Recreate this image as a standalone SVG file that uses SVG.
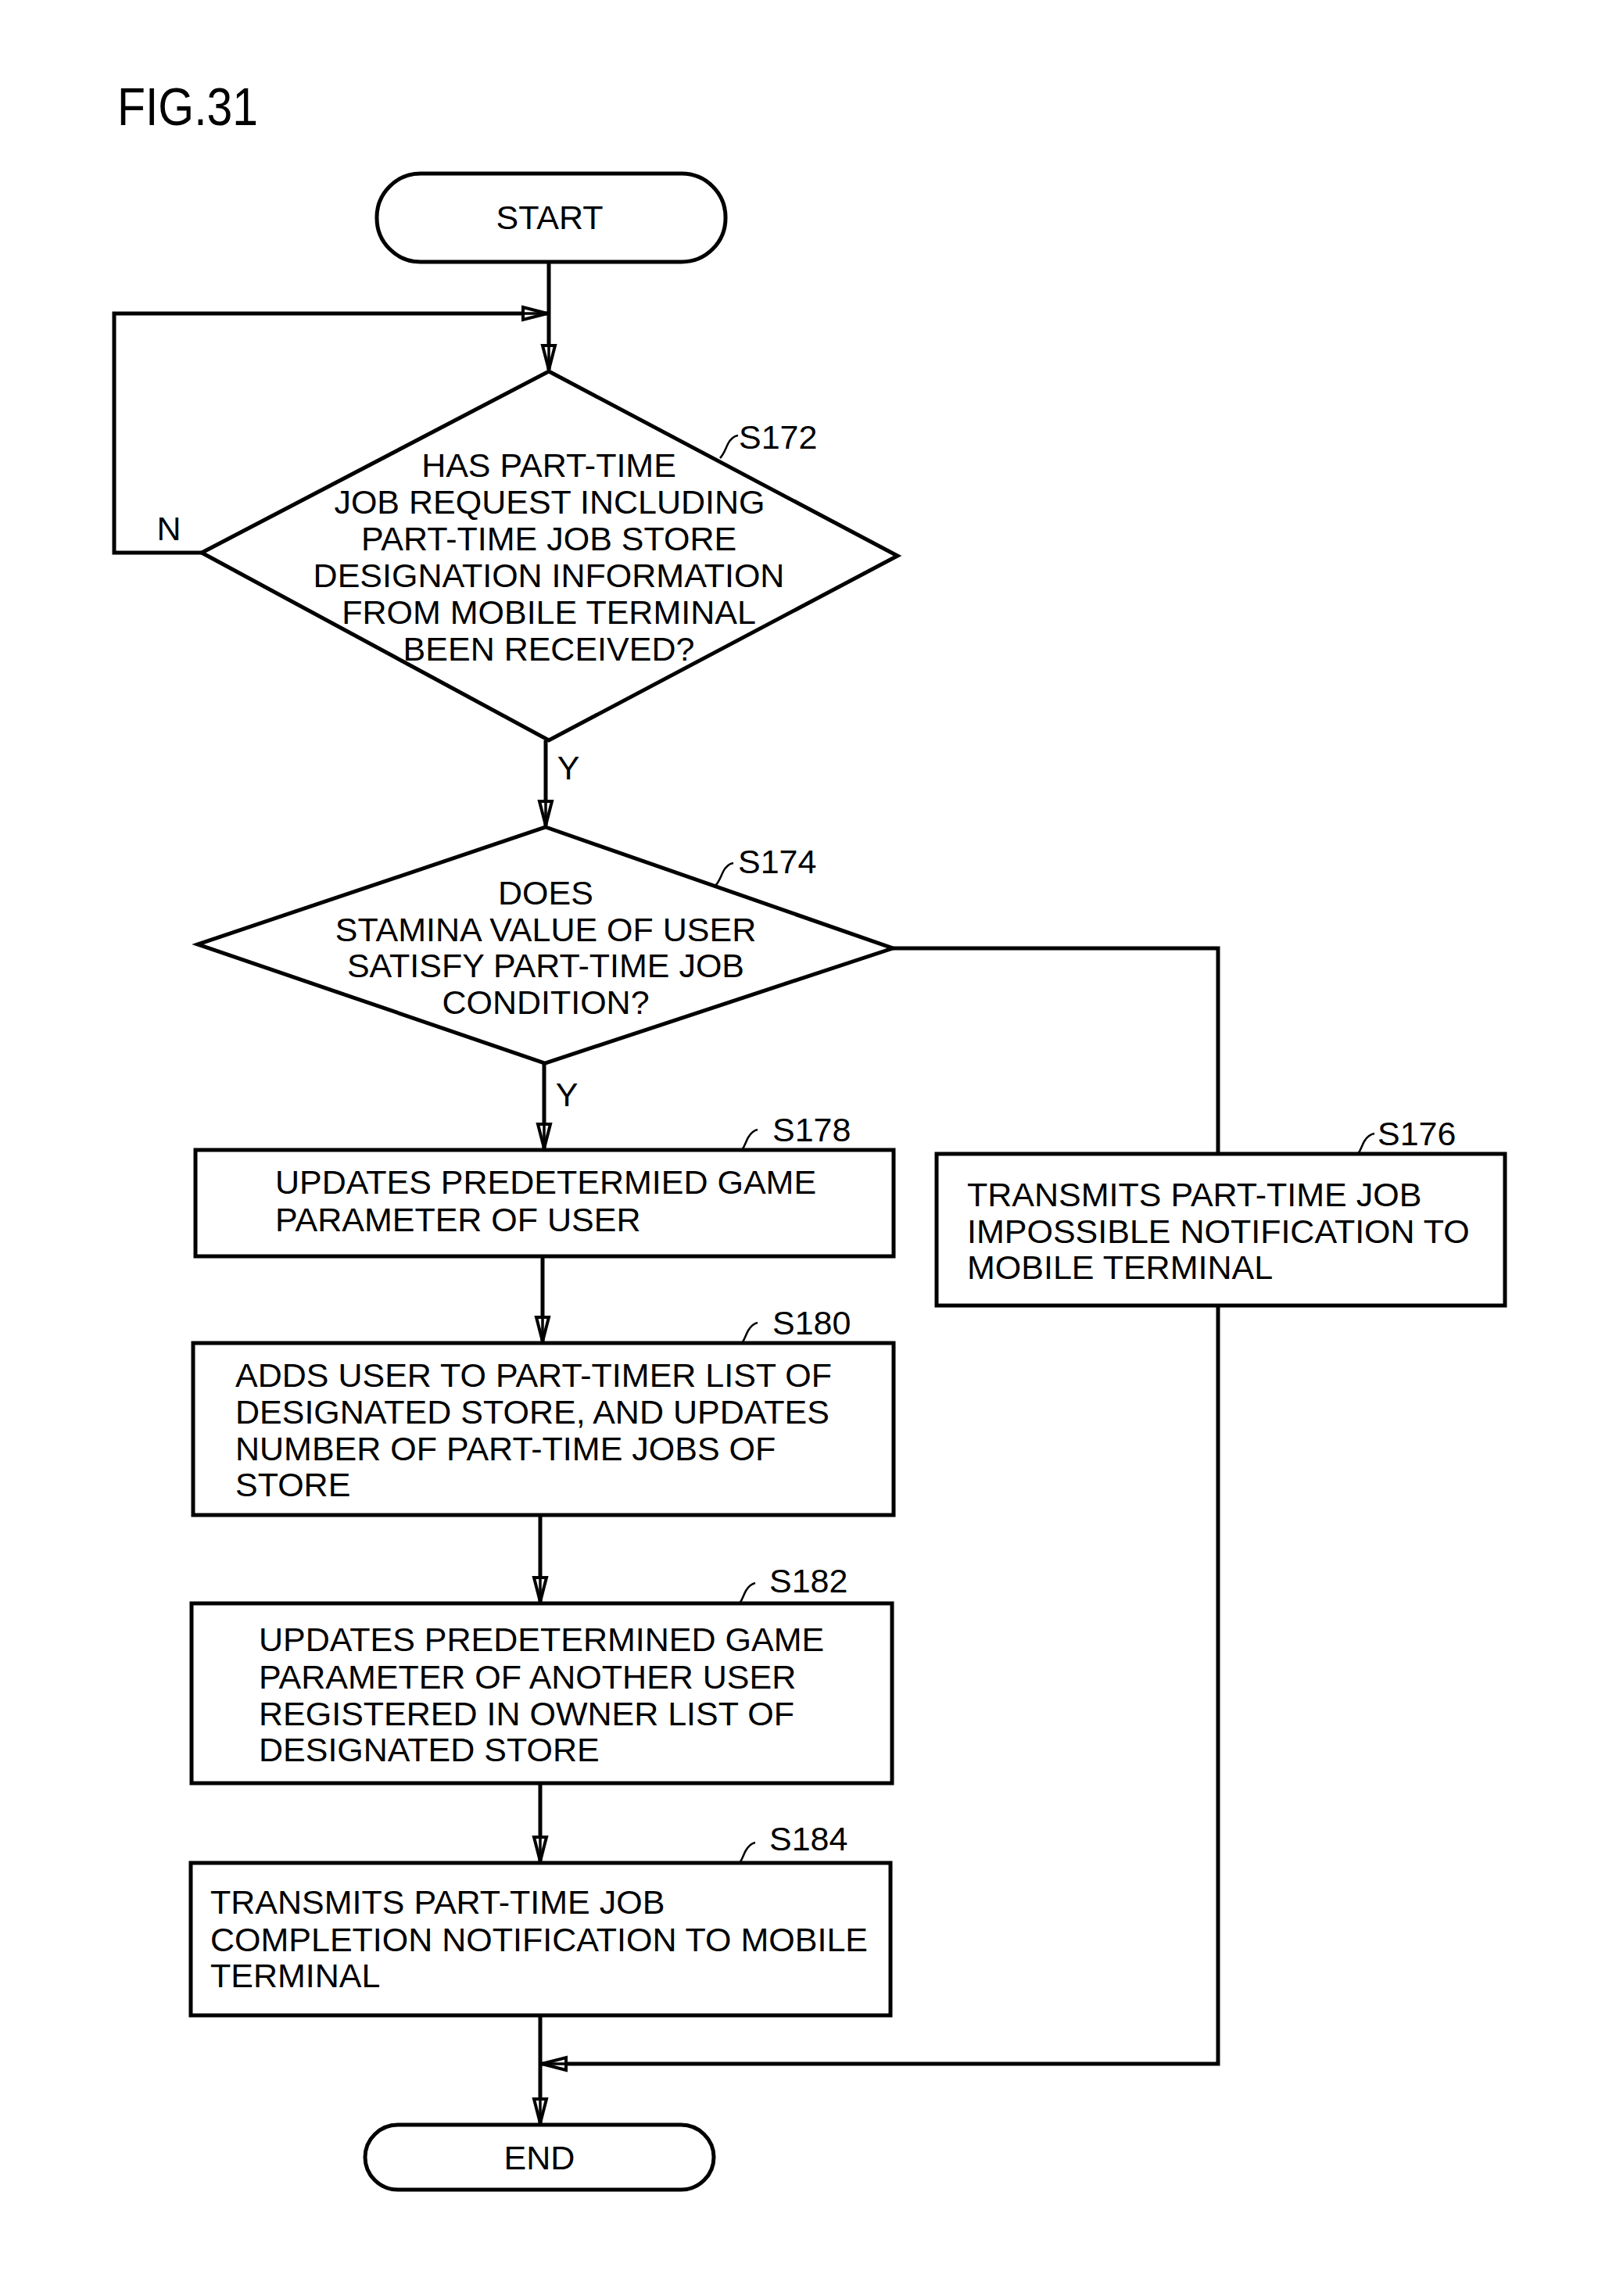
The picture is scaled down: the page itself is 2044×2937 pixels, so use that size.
<svg xmlns="http://www.w3.org/2000/svg" width="2044" height="2937" viewBox="0 0 2044 2937">
<style>
.s{fill:none;stroke:#000;stroke-width:5}
.b{fill:#fff;stroke:#000;stroke-width:5}
.t{font-family:"Liberation Sans",Arial,sans-serif;font-size:43px;fill:#000}
.c{text-anchor:middle}
.ld{fill:none;stroke:#000;stroke-width:2.5}
</style>
<defs>
<marker id="ah" markerUnits="userSpaceOnUse" markerWidth="36" markerHeight="22" viewBox="0 0 36 22" refX="33" refY="11" orient="auto">
<path d="M2,3 L33,11 L2,19 Z" fill="#fff" stroke="#000" stroke-width="4"/>
<path d="M2,11 L33,11" stroke="#000" stroke-width="3.5"/>
</marker>
</defs>
<rect width="2044" height="2937" fill="#fff"/>
<text class="t" x="150" y="160" style="font-size:68px" textLength="180" lengthAdjust="spacingAndGlyphs">FIG.31</text>

<g id="connectors">
<path class="s" d="M702,335 V473" marker-end="url(#ah)"/>
<path class="s" d="M258,707 H146 V401 H700" marker-end="url(#ah)"/>
<path class="s" d="M698,947 V1056" marker-end="url(#ah)"/>
<path class="s" d="M1142,1213 H1558 V1476"/>
<path class="s" d="M696,1360 V1469" marker-end="url(#ah)"/>
<path class="s" d="M694,1607 V1716" marker-end="url(#ah)"/>
<path class="s" d="M691,1938 V2049" marker-end="url(#ah)"/>
<path class="s" d="M691,2281 V2381" marker-end="url(#ah)"/>
<path class="s" d="M691,2578 V2716" marker-end="url(#ah)"/>
<path class="s" d="M1558,1670 V2640 H693" marker-end="url(#ah)"/>
<text class="t c" x="216" y="691">N</text>
<text class="t c" x="727" y="997">Y</text>
<text class="t c" x="725" y="1415">Y</text>
</g>

<g id="start">
<rect class="b" x="482" y="222" width="446" height="113" rx="56" ry="56"/>
<text class="t c" x="703" y="293">START</text>
</g>

<g id="S172">
<path class="b" d="M702,475 L1148,711 L702,947 L258,707 Z"/>
<path class="ld" d="M921,586 c5,-5 7,-12 10,-18 c3,-6 7,-10 13,-11"/>
<text class="t" x="945" y="574">S172</text>
<text class="t c" x="702" y="610">HAS PART-TIME</text>
<text class="t c" x="703" y="657">JOB REQUEST INCLUDING</text>
<text class="t c" x="702" y="704">PART-TIME JOB STORE</text>
<text class="t c" x="702" y="751">DESIGNATION INFORMATION</text>
<text class="t c" x="702" y="798">FROM MOBILE TERMINAL</text>
<text class="t c" x="702" y="845">BEEN RECEIVED?</text>
</g>

<g id="S174">
<path class="b" d="M698,1058 L1142,1213 L697,1360 L253,1208 Z"/>
<path class="ld" d="M915,1133 c5,-5 7,-12 10,-18 c3,-6 7,-10 13,-11"/>
<text class="t" x="944" y="1117">S174</text>
<text class="t c" x="698" y="1157">DOES</text>
<text class="t c" x="698" y="1204">STAMINA VALUE OF USER</text>
<text class="t c" x="698" y="1250">SATISFY PART-TIME JOB</text>
<text class="t c" x="698" y="1297">CONDITION?</text>
</g>

<g id="S176">
<rect class="b" x="1198" y="1476" width="727" height="194"/>
<path class="ld" d="M1737,1476 c4,-5 5,-11 8,-16 c3,-5 7,-9 13,-10"/>
<text class="t" x="1762" y="1465">S176</text>
<text class="t" x="1237" y="1543">TRANSMITS PART-TIME JOB</text>
<text class="t" x="1237" y="1590">IMPOSSIBLE NOTIFICATION TO</text>
<text class="t" x="1237" y="1636">MOBILE TERMINAL</text>
</g>

<g id="S178">
<rect class="b" x="250" y="1471" width="893" height="136"/>
<path class="ld" d="M949,1471 c4,-5 5,-11 8,-16 c3,-5 7,-9 12,-10"/>
<text class="t" x="988" y="1460">S178</text>
<text class="t" x="352" y="1527">UPDATES PREDETERMIED GAME</text>
<text class="t" x="352" y="1575">PARAMETER OF USER</text>
</g>

<g id="S180">
<rect class="b" x="247" y="1718" width="896" height="220"/>
<path class="ld" d="M949,1718 c4,-5 5,-11 8,-16 c3,-5 7,-9 12,-10"/>
<text class="t" x="988" y="1707">S180</text>
<text class="t" x="301" y="1774">ADDS USER TO PART-TIMER LIST OF</text>
<text class="t" x="301" y="1821">DESIGNATED STORE, AND UPDATES</text>
<text class="t" x="301" y="1868">NUMBER OF PART-TIME JOBS OF</text>
<text class="t" x="301" y="1914">STORE</text>
</g>

<g id="S182">
<rect class="b" x="245" y="2051" width="896" height="230"/>
<path class="ld" d="M946,2051 c4,-5 5,-11 8,-16 c3,-5 7,-9 12,-10"/>
<text class="t" x="984" y="2037">S182</text>
<text class="t" x="331" y="2112">UPDATES PREDETERMINED GAME</text>
<text class="t" x="331" y="2160">PARAMETER OF ANOTHER USER</text>
<text class="t" x="331" y="2207">REGISTERED IN OWNER LIST OF</text>
<text class="t" x="331" y="2253">DESIGNATED STORE</text>
</g>

<g id="S184">
<rect class="b" x="244" y="2383" width="895" height="195"/>
<path class="ld" d="M946,2383 c4,-5 5,-11 8,-16 c3,-5 7,-9 12,-10"/>
<text class="t" x="984" y="2367">S184</text>
<text class="t" x="269" y="2448">TRANSMITS PART-TIME JOB</text>
<text class="t" x="269" y="2496">COMPLETION NOTIFICATION TO MOBILE</text>
<text class="t" x="269" y="2542">TERMINAL</text>
</g>

<g id="end">
<rect class="b" x="467" y="2718" width="446" height="83" rx="42" ry="42"/>
<text class="t c" x="690" y="2775">END</text>
</g>
</svg>
